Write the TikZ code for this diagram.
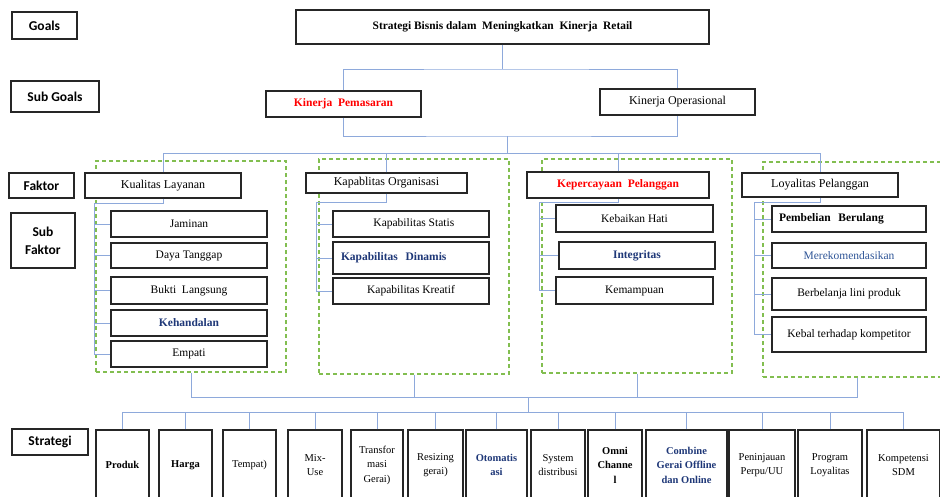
\documentclass[tikz,border=0pt]{standalone}
\usepackage{fontspec}
\setmainfont{Liberation Serif}
\newfontfamily\lblfont{Carlito}
\definecolor{linkblue}{RGB}{142,169,219}
\definecolor{grpgreen}{RGB}{130,190,80}
\definecolor{subblue}{RGB}{31,56,120}
\definecolor{midblue}{RGB}{47,85,151}
\tikzset{
  lvl/.style={draw=black!85, line width=1.4pt, fill=white, inner sep=0pt, align=center, font=\lblfont\bfseries\fontsize{13.5}{18}\selectfont},
  box/.style={draw=black!85, line width=1.3pt, fill=white, inner sep=0pt, align=center, font=\fontsize{11.5}{13}\selectfont},
  fbox/.style={box, font=\fontsize{12}{14}\selectfont},
  sbox/.style={box, minimum height=70pt, font=\fontsize{10.5}{14.5}\selectfont},
  grp/.style={draw=grpgreen, line width=1.2pt, dash pattern=on 4pt off 3pt, inner sep=0pt},
  link/.style={draw=linkblue, line width=0.9pt},
}
\begin{document}
\begin{tikzpicture}[x=1pt, y=-1pt]
  \useasboundingbox (0,0) rectangle (940,496);
  % level labels
  \node[lvl, minimum width=65pt, minimum height=27pt] (lgoal) at (44.5,25.5) {Goals};
  \node[lvl, minimum width=88pt, minimum height=31pt] (lsubg) at (55,96.5) {Sub Goals};
  \node[lvl, minimum width=65pt, minimum height=25pt] (lfak) at (41.5,185.5) {Faktor};
  \node[lvl, minimum width=64pt, minimum height=55pt] (lsubf) at (43,240.5) {Sub\\Faktor};
  \node[lvl, minimum width=76pt, minimum height=26pt] (lstr) at (50,442) {Strategi};
  % dashed groups
  \node[grp, minimum width=190pt, minimum height=211pt] (g1) at (191,266.5) {};
  \node[grp, minimum width=190pt, minimum height=215pt] (g2) at (414,266.5) {};
  \node[grp, minimum width=190pt, minimum height=214pt] (g3) at (637,266) {};
  \node[grp, minimum width=188pt, minimum height=215pt] (g4) at (857,269.5) {};
  % goal and sub goals
  \node[box, minimum width=413pt, minimum height=34pt, font=\bfseries\fontsize{11.4}{13}\selectfont] (goal) at (502.5,27) {Strategi Bisnis dalam\ \ Meningkatkan\ \ Kinerja\ \ Retail};
  \node[box, minimum width=155pt, minimum height=26pt, text=red, font=\bfseries\fontsize{11.5}{13}\selectfont] (kp) at (343.5,104) {Kinerja\ \ Pemasaran};
  \node[fbox, minimum width=155pt, minimum height=26pt] (ko) at (677.5,102) {Kinerja Operasional};
  % faktor
  \node[fbox, minimum width=156pt, minimum height=25pt] (kl) at (163,185.5) {Kualitas Layanan};
  \node[fbox, minimum width=161pt, minimum height=20pt] (kor) at (386.5,183) {Kapablitas Organisasi};
  \node[box, minimum width=182pt, minimum height=26pt, text=red, font=\bfseries\fontsize{11.5}{13}\selectfont] (kep) at (618,185) {Kepercayaan\ \ Pelanggan};
  \node[fbox, minimum width=156pt, minimum height=24pt] (lp) at (820,185) {Loyalitas Pelanggan};
  % sub faktor
  \node[box, minimum width=156pt, minimum height=26pt] (jam) at (189,224) {Jaminan};
  \node[box, minimum width=156pt, minimum height=25pt] (day) at (189,255.5) {Daya Tanggap};
  \node[box, minimum width=156pt, minimum height=27pt] (buk) at (189,290.5) {Bukti\ \ Langsung};
  \node[box, minimum width=156pt, minimum height=26pt, text=subblue, font=\bfseries\fontsize{11.5}{13}\selectfont] (keh) at (189,323) {Kehandalan};
  \node[box, minimum width=156pt, minimum height=26pt] (emp) at (189,354) {Empati};
  \node[box, minimum width=156pt, minimum height=26pt] (sta) at (411,224) {\ \ Kapabilitas Statis};
  \node[box, minimum width=156pt, minimum height=32pt, text width=140pt, align=left, text=subblue, font=\bfseries\fontsize{11.5}{13}\selectfont] (din) at (411,258) {Kapabilitas\ \ Dinamis};
  \node[box, minimum width=156pt, minimum height=26pt] (kre) at (411,291) {Kapabilitas Kreatif};
  \node[box, minimum width=157pt, minimum height=27pt] (kbh) at (634.5,218.5) {Kebaikan Hati};
  \node[box, minimum width=156pt, minimum height=27pt, text=subblue, font=\bfseries\fontsize{11.5}{13}\selectfont] (int) at (637,255.5) {Integritas};
  \node[box, minimum width=157pt, minimum height=27pt] (kem) at (634.5,290.5) {Kemampuan};
  \node[box, minimum width=154pt, minimum height=26pt, text width=140pt, align=left, font=\bfseries\fontsize{11.5}{13}\selectfont] (pem) at (849,219) {Pembelian\ \ Berulang};
  \node[box, minimum width=154pt, minimum height=25pt, text=midblue] (mer) at (849,255.5) {Merekomendasikan};
  \node[box, minimum width=154pt, minimum height=32pt] (bel) at (849,294) {Berbelanja lini produk};
  \node[box, minimum width=154pt, minimum height=35pt] (keb) at (849,334.5) {Kebal terhadap kompetitor};
  % strategi
  \node[sbox, minimum width=53pt, font=\bfseries\fontsize{10.5}{14.5}\selectfont] (s1) at (122.5,465) {Produk};
  \node[sbox, minimum width=53pt, font=\bfseries\fontsize{10.5}{14.5}\selectfont] (s2) at (185.5,465) {Harga};
  \node[sbox, minimum width=53pt] (s3) at (249.5,465) {Tempat)};
  \node[sbox, minimum width=54pt] (s4) at (315,465) {Mix-\\Use};
  \node[sbox, minimum width=52pt] (s5) at (377,465) {Transfor\\masi\\Gerai)};
  \node[sbox, minimum width=55pt] (s6) at (435.5,465) {Resizing\\gerai)};
  \node[sbox, minimum width=61pt, text=subblue, font=\bfseries\fontsize{10.5}{14.5}\selectfont] (s7) at (496.5,465) {Otomatis\\asi};
  \node[sbox, minimum width=54pt] (s8) at (558,465) {System\\distribusi};
  \node[sbox, minimum width=54pt, font=\bfseries\fontsize{10.5}{14.5}\selectfont] (s9) at (615,465) {Omni\\Channe\\l};
  \node[sbox, minimum width=81pt, text=subblue, font=\bfseries\fontsize{10.5}{14.5}\selectfont] (s10) at (686.5,465) {Combine\\Gerai Offline\\dan Online};
  \node[sbox, minimum width=66pt] (s11) at (762,465) {Peninjauan\\Perpu/UU};
  \node[sbox, minimum width=64pt] (s12) at (830,465) {Program\\Loyalitas};
  \node[sbox, minimum width=73pt] (s13) at (903.5,465) {Kompetensi\\SDM};
  % goal to sub goals
  \coordinate (j1) at (502.5,69);
  \draw[link] (goal.south) -- (j1);
  \draw[link] (kp.north) |- (j1) -| (ko.north);
  % sub goals to faktor
  \coordinate (j2) at (507,136);
  \coordinate (j3) at (507,153);
  \draw[link] (kp.south) |- (j2) -| (ko.south);
  \draw[link] (j2) -- (j3);
  \draw[link] (kl.north) |- (lp.north |- j3) -- (lp.north);
  \draw[link] (kor.north) -- (kor.north |- j3);
  \draw[link] (kep.north) -- (kep.north |- j3);
  % faktor to sub faktor
  \coordinate (t1) at (94,203);
  \draw[link] (kl.south) |- (t1) |- (emp.west);
  \foreach \n in {jam,day,buk,keh}
    \draw[link] (t1 |- \n.west) -- (\n.west);
  \coordinate (t2) at (316,202);
  \draw[link] (kor.south) |- (t2) |- (kre.west);
  \foreach \n in {sta,din}
    \draw[link] (t2 |- \n.west) -- (\n.west);
  \coordinate (t3) at (539,202);
  \draw[link] (kep.south) |- (t3) |- (kem.west);
  \foreach \n in {kbh,int}
    \draw[link] (t3 |- \n.west) -- (\n.west);
  \coordinate (t4) at (754,202);
  \draw[link] (lp.south) |- (t4) |- (keb.west);
  \foreach \n in {pem,mer,bel}
    \draw[link] (t4 |- \n.west) -- (\n.west);
  % groups to strategi
  \coordinate (j4) at (528,397);
  \coordinate (j5) at (528,412);
  \draw[link] (g1.south) |- (g4.south |- j4) -- (g4.south);
  \draw[link] (g2.south) -- (g2.south |- j4);
  \draw[link] (g3.south) -- (g3.south |- j4);
  \draw[link] (j4) -- (j5);
  \draw[link] (s1.north) |- (s13.north |- j5) -- (s13.north);
  \foreach \i in {2,...,12}
    \draw[link] (s\i.north) -- (s\i.north |- j5);
\end{tikzpicture}
\end{document}
